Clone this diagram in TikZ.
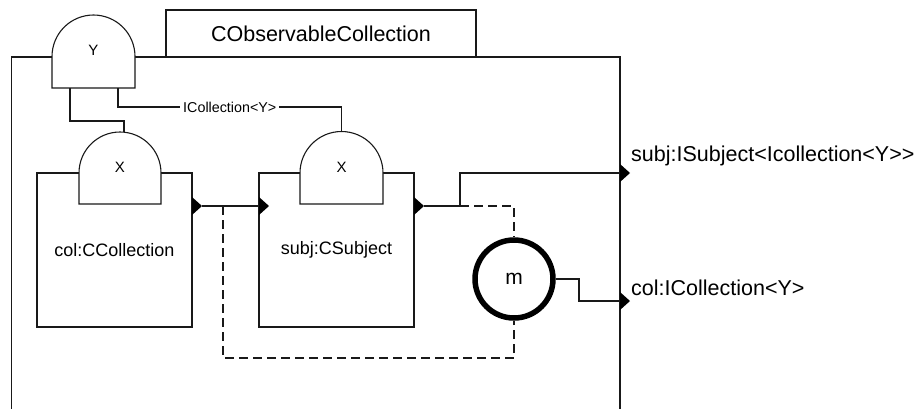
\documentclass[tikz,border=0pt]{standalone}
\usepackage{fontspec}
\setmainfont{Liberation Sans}
\usetikzlibrary{calc}
\begin{document}
\begin{tikzpicture}[x=1pt,y=-1pt,
  wire/.style={draw=black!90, line width=1.1pt},
  dashwire/.style={wire, dash pattern=on 9pt off 5pt},
  partbox/.style={draw=black!90, line width=1.1pt, fill=white, minimum width=155pt,
    minimum height=154pt, inner sep=0pt, font=\fontsize{18}{20}\selectfont},
  tabtext/.style={font=\fontsize{15}{17}\selectfont, inner sep=0pt},
  biglabel/.style={font=\fontsize{21.5}{24}\selectfont, inner sep=0pt},
  port/.pic={\fill[black] (0,-9) -- (10,0) -- (0,9) -- cycle;}
]
\useasboundingbox (0,0) rectangle (918,408);
\clip (0,0) rectangle (918,408);

% enclosing structured class
\draw[wire] (11.5,420) -- (11.5,57) -- (620,57) -- (620,420);
\node[draw=black!90, line width=1.1pt, fill=white, minimum width=310pt, minimum height=47pt,
  inner sep=0pt, font=\fontsize{21.5}{24}\selectfont] (title) at (321,33.5) {CObservableCollection};

% template parameter Y of the class (y axis points down, so arcs run 180 -> 360)
\filldraw[wire, fill=white] (52,88) -- (52,56.5) arc[start angle=180, end angle=360, radius=41.5]
  -- (135,88) -- cycle;
\node[tabtext] (ylab) at (93.5,50) {Y};
\coordinate (yA) at (70,88);
\coordinate (yB) at (118,88);

% parts
\node[partbox] (colbox) at (114.5,250) {col:CCollection};
\node[partbox] (subjbox) at (336.5,250) {subj:CSubject};

% template parameters X of the parts
\filldraw[wire, fill=white] (79,204) -- (79,173) arc[start angle=180, end angle=360, radius=41]
  -- (161,204) -- cycle;
\node[tabtext] (xcol) at (120,167) {X};
\coordinate (xcolTop) at (124,132);
\filldraw[wire, fill=white] (300,204) -- (300,173) arc[start angle=180, end angle=360, radius=41.5]
  -- (383,204) -- cycle;
\node[tabtext] (xsubj) at (341.5,167) {X};
\coordinate (xsubjTop) at (341.5,132);

% ports
\pic at (192,206) {port};
\pic at (259,206) {port};
\pic at (414,206) {port};
\pic at (620,173) {port};
\pic at (620,301) {port};
\coordinate (colOut) at (202,206);
\coordinate (subjIn) at (259,206);
\coordinate (subjOut) at (424,206);
\coordinate (portS) at (620,173);
\coordinate (portC) at (620,301);
\coordinate (split) at (460,206);
\coordinate (tap) at (223,206);

% multiplexer m
\node[circle, draw=black, line width=5.5pt, minimum size=78pt, inner sep=0pt,
  font=\fontsize{21}{23}\selectfont] (m) at (514,279) {m};

% template bindings
\draw[wire] (yA) -- (yA |- 0,121) -- (xcolTop |- 0,121) -- (xcolTop);
\draw[wire] (yB) -- (yB |- 0,107) -- (xsubjTop |- 0,107)
  node[pos=0.5, fill=white, inner xsep=3pt, inner ysep=1pt,
       font=\fontsize{14.3}{16}\selectfont] (bind) {ICollection<Y>}
  -- (xsubjTop);

% connectors
\draw[wire] (colOut) -- (subjIn);
\draw[dashwire] (tap) -- (tap |- 0,358) -- (m.south |- 0,358) -- (m.south);
\draw[wire] (subjOut) -- (split) -- (split |- portS) -- (portS);
\draw[dashwire] (split) -- (m.north |- split) -- (m.north);
\draw[wire] (m.east) -- (579,279) -- (579,301) -- (portC);

% port labels
\node[biglabel, anchor=west] (lblS) at (631,156) {subj:ISubject<Icollection<Y>{}>};
\node[biglabel, anchor=west] (lblC) at (631,288) {col:ICollection<Y>};
\end{tikzpicture}
\end{document}
